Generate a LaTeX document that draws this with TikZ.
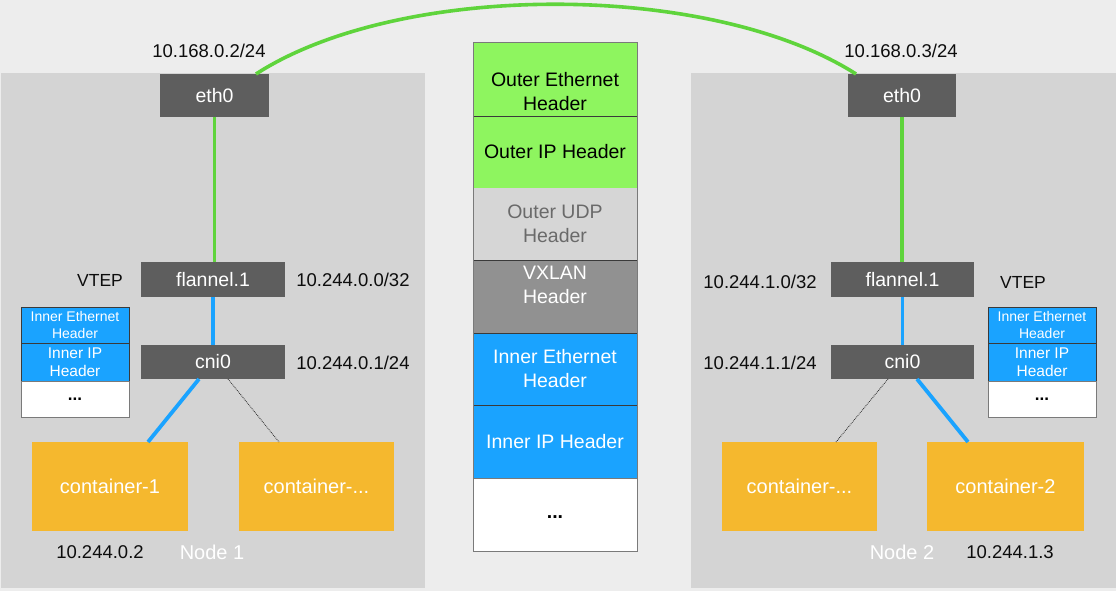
\documentclass[tikz,border=0pt]{standalone}
\usepackage{fontspec}
\setmainfont{Liberation Sans}
\usetikzlibrary{calc}
\definecolor{bg}{HTML}{EDEDED}
\definecolor{panel}{HTML}{D4D4D4}
\definecolor{devgray}{HTML}{5E5E5E}
\definecolor{linkgreen}{HTML}{5FD43C}
\definecolor{linkblue}{HTML}{1AA3FF}
\definecolor{ctrorange}{HTML}{F5B82E}
\definecolor{hgreen}{HTML}{8EF55F}
\definecolor{hudp}{HTML}{D6D6D6}
\definecolor{hudptext}{HTML}{6A6A6A}
\definecolor{hvx}{HTML}{919191}
\definecolor{sep}{HTML}{3A3A3A}
\definecolor{edge}{HTML}{7A7A7A}
\tikzset{
  box/.style={inner sep=0pt, outer sep=0pt, anchor=center},
  devbox/.style={box, fill=devgray, text=white, font=\fontsize{19.5}{23}\selectfont},
  ctrbox/.style={box, fill=ctrorange, text=white, minimum width=156pt, minimum height=89pt, font=\fontsize{20}{23}\selectfont},
  lbl/.style={inner sep=0pt, text=black!95, font=\fontsize{18.5}{22}\selectfont},
  nodelbl/.style={inner sep=0pt, text=white, font=\fontsize{20}{22}\selectfont},
  greenlink/.style={draw=linkgreen, line width=3.6pt},
  bluelink/.style={draw=linkblue, line width=3.8pt},
  thinlink/.style={draw=black!85, line width=0.8pt, densely dotted},
  hdr/.style={box, minimum width=164pt},
  hdrtext/.style={inner sep=0pt, align=center, font=\fontsize{19.5}{24}\selectfont},
  smallhdr/.style={box, minimum width=108pt, draw=sep, line width=0.9pt, align=center, fill=linkblue, text=white},
}
\begin{document}
\begin{tikzpicture}[x=1pt,y=-1pt]
\useasboundingbox (0,0) rectangle (1116,591);
\fill[bg] (0,0) rectangle (1116,591);
% node panels
\fill[panel] (1,73) rectangle (425,588);
\fill[panel] (691,73) rectangle (1116,588);

% ---------- left node ----------
\node[devbox, minimum width=109pt, minimum height=43pt] (eth0L) at (214.5,95.5) {eth0};
\node[devbox, minimum width=144pt, minimum height=35pt] (flL) at (213,279.5) {flannel.1};
\node[devbox, minimum width=144pt, minimum height=34pt] (cniL) at (213,362) {cni0};
\node[ctrbox] (c1) at (110,486.5) {container-1};
\node[ctrbox, minimum width=155pt] (cdL) at (316.5,486.5) {container-...};

\node[smallhdr, minimum height=36pt, font=\fontsize{14}{17}\selectfont] (ieL) at (75,325) {Inner Ethernet\\Header};
\node[smallhdr, minimum height=38pt, font=\fontsize{15.5}{18}\selectfont] (iiL) at (75,362) {Inner IP\\Header};
\node[smallhdr, minimum height=36pt, fill=white, draw=edge, text=black, font=\bfseries\fontsize{17}{18}\selectfont] (idL) at (75,399) {...};

\node[lbl] (ipethL) at (209,51) {10.168.0.2/24};
\node[lbl, font=\fontsize{17.5}{21}\selectfont] (vtepL) at (100,280) {VTEP};
\node[lbl] (ipflL) at (353,280) {10.244.0.0/32};
\node[lbl] (ipcniL) at (353,363) {10.244.0.1/24};
\node[lbl] (ipc1) at (100,552) {10.244.0.2};
\node[nodelbl] (node1) at (212,552) {Node 1};

% ---------- right node ----------
\node[devbox, minimum width=108pt, minimum height=43pt] (eth0R) at (902,95.5) {eth0};
\node[devbox, minimum width=143pt, minimum height=35pt] (flR) at (902.5,279.5) {flannel.1};
\node[devbox, minimum width=143pt, minimum height=34pt] (cniR) at (902.5,362) {cni0};
\node[ctrbox, minimum width=155pt] (cdR) at (799.5,486.5) {container-...};
\node[ctrbox, minimum width=157pt] (c2) at (1005.5,486.5) {container-2};

\node[smallhdr, minimum height=36pt, font=\fontsize{14}{17}\selectfont] (ieR) at (1042,325) {Inner Ethernet\\Header};
\node[smallhdr, minimum height=38pt, font=\fontsize{15.5}{18}\selectfont] (iiR) at (1042,362) {Inner IP\\Header};
\node[smallhdr, minimum height=36pt, fill=white, draw=edge, text=black, font=\bfseries\fontsize{17}{18}\selectfont] (idR) at (1042,399) {...};

\node[lbl] (ipethR) at (901,51) {10.168.0.3/24};
\node[lbl] (ipflR) at (760,282) {10.244.1.0/32};
\node[lbl, font=\fontsize{17.5}{21}\selectfont] (vtepR) at (1023,282) {VTEP};
\node[lbl] (ipcniR) at (760,363) {10.244.1.1/24};
\node[nodelbl] (node2) at (902,552) {Node 2};
\node[lbl] (ipc2) at (1010,552) {10.244.1.3};

% ---------- packet stack ----------
\node[hdr, fill=hgreen, minimum height=73pt] (oe) at (555,79.5) {};
\node[hdr, fill=hgreen, minimum height=72pt] (oi) at (555,152) {};
\node[hdr, fill=hudp, minimum height=72pt] (ou) at (555,224) {};
\node[hdr, fill=hvx, minimum height=73pt] (vx) at (555,296.5) {};
\node[hdr, fill=linkblue, minimum height=72pt] (ie) at (555,369) {};
\node[hdr, fill=linkblue, minimum height=73pt] (ii) at (555,441.5) {};
\node[hdr, fill=white, minimum height=73pt] (dd) at (555,514.5) {};

\node[hdrtext] (toe) at ([yshift=-12.5pt]oe.center) {Outer Ethernet\\Header};
\node[hdrtext] (toi) at (oi.center) {Outer IP Header};
\node[hdrtext, text=hudptext] (tou) at (ou.center) {Outer UDP\\Header};
\node[hdrtext, text=white] (tvx) at ([yshift=11.5pt]vx.center) {VXLAN\\Header};
\node[hdrtext, text=white] (tie) at (ie.center) {Inner Ethernet\\Header};
\node[hdrtext, text=white] (tii) at (ii.center) {Inner IP Header};
\node[hdrtext, font=\bfseries\fontsize{19.5}{24}\selectfont] (tdd) at ([yshift=-3pt]dd.center) {...};

\draw[sep, line width=0.9pt] (oe.south west) -- (oe.south east);
\draw[sep, line width=0.9pt] (ou.south west) -- (ou.south east);
\draw[sep, line width=0.9pt] (vx.south west) -- (vx.south east);
\draw[sep, line width=0.9pt] (ie.south west) -- (ie.south east);
\draw[edge, line width=0.9pt] (ii.south west) -- (ii.south east);
\draw[edge, line width=1pt] (oe.north west) rectangle (dd.south east);

% ---------- connectors ----------
\draw[greenlink] ([xshift=-13pt]eth0L.north east) .. controls (400,-19) and (710,-19) .. ([xshift=8pt]eth0R.north west);
\draw[greenlink] (eth0L.south) -- (eth0L.south |- flL.north);
\draw[bluelink] (flL.south) -- (cniL.north);
\draw[bluelink] ([xshift=58pt]cniL.south west) -- ([xshift=116pt]c1.north west);
\draw[thinlink] ([xshift=87pt]cniL.south west) -- ([xshift=40pt]cdL.north west);

\draw[greenlink] (eth0R.south) -- (eth0R.south |- flR.north);
\draw[bluelink] (flR.south) -- (cniR.north);
\draw[thinlink] ([xshift=57pt]cniR.south west) -- ([xshift=114pt]cdR.north west);
\draw[bluelink] ([xshift=86pt]cniR.south west) -- ([xshift=41pt]c2.north west);
\end{tikzpicture}
\end{document}
